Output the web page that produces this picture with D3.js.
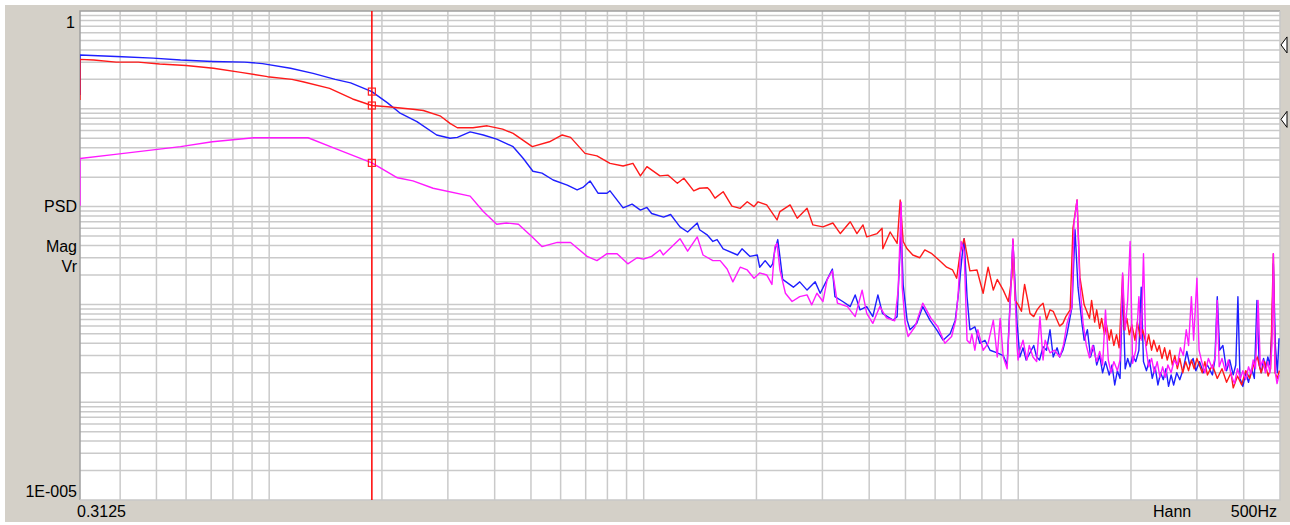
<!DOCTYPE html>
<html>
<head>
<meta charset="utf-8">
<title>PSD</title>
<script src="https://cdn.jsdelivr.net/npm/d3@7"></script>
<style>
  body { margin: 0; background: #ffffff; }
  text { font-family: "Liberation Sans", Arial, sans-serif; font-size: 16px; fill: #000; }
</style>
</head>
<body>
<script>
// frequency axis ends (Hz) and magnitude axis ends
var freqRange = [0.3125, 500];
var magRange = [1e-5, 1];
var cursorFreq = 1.88;

// channel 1 (blue)
var blueFreq = [0.3125, 0.3125, 0.405, 0.49, 0.58, 0.705, 0.86, 0.96, 1.14, 1.31, 1.5, 1.65, 1.88, 2.07, 2.23, 2.48, 2.8, 3.04, 3.18, 3.44, 3.73, 4.05, 4.48, 4.77, 5.06, 5.35, 5.73, 6.25, 6.64, 6.88, 7.19, 7.55, 7.98, 8.13, 8.81, 9.31, 9.8, 10.2, 10.5, 11.3, 11.8, 12.5, 13.1, 13.9, 14.1, 14.8, 15.3, 15.7, 16.3, 17.8, 18.3, 19.2, 20.1, 20.4, 21.1, 21.8, 22.1, 22.4, 22.8, 23.1, 23.5, 25.1, 26.1, 27.3, 28.7, 29.6, 30.9, 31.9, 32.4, 34.0, 35.6, 36.7, 37.8, 39.4, 40.9, 42.2, 43.4, 46.3, 47.5, 47.8, 48.7, 49.3, 50.5, 51.4, 53.6, 55.6, 58.1, 60.6, 63.0, 65.8, 67.9, 69.1, 70.8, 71.7, 73.0, 74.3, 76.6, 79.0, 81.5, 84.1, 87.9, 91.2, 93.4, 95.0, 96.8, 99.3, 101, 103, 105, 107.5, 110, 112, 114, 116.5, 119, 121.6, 124, 127, 129, 131.6, 135, 139.2, 141.8, 144.4, 148, 150, 153, 156, 159, 162, 165, 168, 171, 175, 178, 181, 184, 187, 190, 193, 196, 199, 202, 206, 210, 213, 216, 220, 224, 228, 232, 236, 240, 244, 248, 252, 256, 260, 265, 270, 276, 282, 287, 293, 298, 305, 312, 320, 330, 335, 340, 345, 352, 360, 367, 375, 381, 386, 391, 398, 405, 412, 420, 427, 434, 440, 446, 452, 458, 464, 470, 476, 480, 486, 492, 497];
var blueMag = [0.138, 0.355, 0.34, 0.33, 0.315, 0.305, 0.30, 0.29, 0.26, 0.23, 0.20, 0.184, 0.15, 0.115, 0.091, 0.074, 0.054, 0.050, 0.051, 0.058, 0.054, 0.049, 0.041, 0.031, 0.023, 0.022, 0.0187, 0.0166, 0.0148, 0.0157, 0.0183, 0.0137, 0.0137, 0.0145, 0.0097, 0.0106, 0.0092, 0.0098, 0.0085, 0.0078, 0.0083, 0.0062, 0.0055, 0.0068, 0.0058, 0.0051, 0.0044, 0.0046, 0.0037, 0.0032, 0.0037, 0.0031, 0.0032, 0.0024, 0.0028, 0.0024, 0.0026, 0.0036, 0.0046, 0.0031, 0.0018, 0.0015, 0.0017, 0.0014, 0.0017, 0.0013, 0.0018, 0.0023, 0.0012, 0.00107, 0.00095, 0.00125, 0.00088, 0.00095, 0.00075, 0.00125, 0.00081, 0.00069, 0.00075, 0.00135, 0.006, 0.00158, 0.00069, 0.00055, 0.00064, 0.00095, 0.00069, 0.00055, 0.00043, 0.0005, 0.00069, 0.0012, 0.0031, 0.0047, 0.0012, 0.00055, 0.00059, 0.0004, 0.00043, 0.00034, 0.00032, 0.0003, 0.00024, 0.00095, 0.0044, 0.00064, 0.00029, 0.00036, 0.00027, 0.00032, 0.00038, 0.00029, 0.00027, 0.00037, 0.00034, 0.00055, 0.00029, 0.00036, 0.00029, 0.00034, 0.0005, 0.00095, 0.0058, 0.0015, 0.00064, 0.00043, 0.00055, 0.00029, 0.00038, 0.00024, 0.0003, 0.0002, 0.00026, 0.00019, 0.00024, 0.00015, 0.00021, 0.000175, 0.0015, 0.00022, 0.00028, 0.00023, 0.0003, 0.00026, 0.00034, 0.0015, 0.00026, 0.00021, 0.00027, 0.000175, 0.00023, 0.00015, 0.0002, 0.00017, 0.00022, 0.000145, 0.00019, 0.00015, 0.0002, 0.00017, 0.00022, 0.00033, 0.00024, 0.00028, 0.00021, 0.00026, 0.0002, 0.00024, 0.00019, 0.00027, 0.0012, 0.00034, 0.00038, 0.00021, 0.00027, 0.00019, 0.00024, 0.0012, 0.000175, 0.000145, 0.0002, 0.00016, 0.00022, 0.000175, 0.0011, 0.00024, 0.0002, 0.00028, 0.00022, 0.00029, 0.00024, 0.00055, 0.0026, 0.00038, 0.0002, 0.00045];

// channel 2 (red)
var redFreq = [0.3125, 0.3125, 0.34, 0.39, 0.447, 0.51, 0.60, 0.71, 0.84, 0.99, 1.15, 1.23, 1.45, 1.67, 1.88, 2.07, 2.42, 2.58, 2.87, 3.04, 3.18, 3.5, 3.82, 4.2, 4.48, 5.04, 5.6, 6.06, 6.38, 6.97, 7.5, 8.13, 8.81, 9.36, 9.8, 10.2, 11.05, 11.6, 12.3, 12.8, 13.6, 14.1, 14.8, 15.0, 15.5, 16.3, 17.2, 18.1, 18.9, 19.7, 20.2, 21.3, 22.7, 23.1, 24.6, 25.7, 27.3, 28.3, 30.1, 32.0, 33.5, 35.6, 37.1, 38.5, 39.4, 42.0, 43.3, 43.5, 45.5, 47.5, 48.4, 49.3, 50.5, 52.3, 54.6, 56.3, 58.8, 61.7, 64.4, 66.8, 68.5, 69.9, 71.7, 74.3, 77.6, 80.6, 83.1, 85.8, 87.9, 91.2, 94.1, 96.2, 96.8, 98.1, 100, 102, 103, 104, 106, 107.5, 110, 112.3, 114, 116.5, 119, 121.6, 124, 127, 129, 131.6, 134, 137.6, 140, 143.6, 146.1, 150, 155, 157, 160, 162, 165, 167, 170, 172, 175, 177, 180, 183, 186, 190, 192, 195, 198, 201, 205, 208, 212, 215, 220, 223, 227, 230, 235, 238, 242, 246, 250, 254, 258, 262, 266, 270, 275, 280, 285, 290, 295, 300, 310, 315, 320, 330, 340, 350, 360, 370, 375, 385, 395, 405, 415, 425, 435, 445, 455, 465, 472, 480, 485, 492, 498];
var redMag = [0.123, 0.32, 0.315, 0.30, 0.30, 0.287, 0.277, 0.26, 0.236, 0.213, 0.20, 0.189, 0.162, 0.126, 0.108, 0.105, 0.099, 0.096, 0.084, 0.071, 0.064, 0.064, 0.067, 0.062, 0.056, 0.041, 0.046, 0.054, 0.051, 0.035, 0.033, 0.0277, 0.026, 0.0277, 0.0206, 0.0256, 0.0206, 0.021, 0.0173, 0.0195, 0.0145, 0.0154, 0.0156, 0.0148, 0.0122, 0.0142, 0.0101, 0.0096, 0.0112, 0.01, 0.0112, 0.0104, 0.0073, 0.0089, 0.0104, 0.0076, 0.0096, 0.0065, 0.0062, 0.0068, 0.0053, 0.007, 0.0053, 0.0065, 0.0049, 0.0053, 0.006, 0.0037, 0.0055, 0.0042, 0.0117, 0.0044, 0.0037, 0.0032, 0.003, 0.0036, 0.0033, 0.0028, 0.0024, 0.00225, 0.00185, 0.0033, 0.0047, 0.0022, 0.00225, 0.0013, 0.0024, 0.0014, 0.0018, 0.0014, 0.00107, 0.0019, 0.0046, 0.0011, 0.00099, 0.00085, 0.0012, 0.0016, 0.0011, 0.00081, 0.00075, 0.00088, 0.00095, 0.00103, 0.0007, 0.00088, 0.00085, 0.00069, 0.0006, 0.00064, 0.00075, 0.00088, 0.006, 0.0117, 0.0019, 0.00099, 0.00072, 0.0011, 0.00066, 0.00088, 0.00057, 0.00072, 0.00049, 0.00062, 0.00043, 0.00055, 0.00038, 0.00049, 0.00036, 0.002, 0.00055, 0.00072, 0.00049, 0.00062, 0.00043, 0.00066, 0.00045, 0.00055, 0.00038, 0.00049, 0.00034, 0.00043, 0.00033, 0.00038, 0.00028, 0.00036, 0.00027, 0.00034, 0.00024, 0.0003, 0.00022, 0.00028, 0.0002, 0.00026, 0.00021, 0.00027, 0.00022, 0.00028, 0.0002, 0.00026, 0.00019, 0.00024, 0.000175, 0.00022, 0.00016, 0.0002, 0.00014, 0.000185, 0.00015, 0.00021, 0.000175, 0.00024, 0.00029, 0.0002, 0.00026, 0.000185, 0.00022, 0.0033, 0.0002, 0.000175, 0.00021];

// channel 3 (magenta)
var magFreq = [0.3125, 0.3125, 0.383, 0.58, 0.705, 0.91, 1.27, 1.48, 1.88, 2.2, 2.42, 2.74, 3.44, 3.73, 4.05, 4.3, 4.63, 5.04, 5.35, 5.88, 6.38, 7.06, 7.5, 7.98, 8.49, 9.07, 9.6, 9.98, 10.5, 11.05, 11.27, 11.9, 12.5, 13.1, 13.9, 14.4, 15.3, 16.0, 16.7, 17.3, 18.1, 18.9, 19.7, 20.4, 21.3, 22.0, 22.4, 22.7, 23.1, 23.9, 24.9, 26.1, 27.3, 28.1, 29.0, 30.1, 30.9, 31.9, 32.9, 35.0, 36.7, 38.3, 39.4, 40.9, 42.7, 44.5, 46.8, 47.8, 48.7, 49.0, 49.9, 50.8, 53, 55.6, 58.5, 61, 63.7, 66.4, 68.1, 69.1, 70.4, 71.7, 73, 74.3, 75.2, 76.6, 78, 80.6, 83.1, 85.8, 87.9, 89.5, 91.2, 93.4, 95, 96.8, 99.3, 99.9, 101, 103, 105.5, 107, 109.5, 112, 114.3, 116.5, 118, 121.6, 125, 129.1, 132, 135, 139.2, 140.9, 143.6, 146.1, 149, 152, 155, 158, 162, 165, 168, 171, 174, 177, 180, 184, 187, 190, 193, 196, 199, 202, 206, 210, 213, 216, 219, 223, 227, 231, 235, 239, 243, 247, 251, 256, 261, 266, 271, 276, 281, 285, 290, 294, 300, 304, 309, 315, 322, 330, 336, 340, 344, 350, 357, 364, 370, 378, 385, 392, 398, 405, 412, 418, 424, 430, 437, 443, 450, 457, 464, 470, 476, 480, 485, 491, 497];
var magMag = [0.0102, 0.031, 0.034, 0.041, 0.046, 0.0506, 0.0506, 0.040, 0.028, 0.0197, 0.0183, 0.0154, 0.0128, 0.0089, 0.0066, 0.0068, 0.0066, 0.0049, 0.0039, 0.0043, 0.0043, 0.0031, 0.0028, 0.0033, 0.0033, 0.0026, 0.003, 0.0029, 0.0031, 0.0036, 0.0032, 0.0039, 0.0047, 0.0035, 0.0049, 0.0032, 0.0028, 0.0028, 0.0023, 0.0017, 0.0024, 0.00225, 0.00185, 0.0021, 0.002, 0.0016, 0.0039, 0.0042, 0.00225, 0.0013, 0.00107, 0.0012, 0.00125, 0.00099, 0.0013, 0.00107, 0.0018, 0.0022, 0.00103, 0.00095, 0.00075, 0.0014, 0.00081, 0.00064, 0.00095, 0.00073, 0.00068, 0.0014, 0.0111, 0.0015, 0.00064, 0.00047, 0.00059, 0.00103, 0.00072, 0.00059, 0.0004, 0.00047, 0.00069, 0.00125, 0.0044, 0.0035, 0.00043, 0.0004, 0.0005, 0.00034, 0.00055, 0.00034, 0.0004, 0.00069, 0.00029, 0.00072, 0.00029, 0.00022, 0.00088, 0.0047, 0.00037, 0.00027, 0.00034, 0.00043, 0.00027, 0.00038, 0.00029, 0.00026, 0.00075, 0.00027, 0.00043, 0.00032, 0.00034, 0.00029, 0.00038, 0.00064, 0.00095, 0.0068, 0.0117, 0.0016, 0.00064, 0.00038, 0.000285, 0.00038, 0.00026, 0.00033, 0.00024, 0.00088, 0.00027, 0.0002, 0.00026, 0.00021, 0.00027, 0.0021, 0.00055, 0.0011, 0.0044, 0.00025, 0.00034, 0.0012, 0.00043, 0.0033, 0.00038, 0.00023, 0.00028, 0.0002, 0.00026, 0.00018, 0.00023, 0.00018, 0.00024, 0.0002, 0.00027, 0.00024, 0.00036, 0.0003, 0.00055, 0.00038, 0.0012, 0.00043, 0.00185, 0.00034, 0.00026, 0.0002, 0.00028, 0.00022, 0.0003, 0.0011, 0.00023, 0.00028, 0.00021, 0.00027, 0.00019, 0.000155, 0.00022, 0.000175, 0.00021, 0.00017, 0.00023, 0.000195, 0.00027, 0.00022, 0.0011, 0.00023, 0.00027, 0.0002, 0.00026, 0.0002, 0.00038, 0.0033, 0.00021, 0.000155, 0.00019];

var w = 1290;
var h = 525;
var plot = { left: 80, top: 11, right: 1280, bottom: 500 };

var xScale = d3.scaleLog().domain(freqRange).range([plot.left, plot.right]);
var yScale = d3.scaleLog().domain(magRange).range([plot.bottom, plot.top]);

var svg = d3.select("body").append("svg")
    .attr("width", w)
    .attr("height", h);

// window panel
svg.append("rect")
    .attr("x", 5).attr("y", 5)
    .attr("width", w - 5).attr("height", h - 8)
    .attr("fill", "#d4d0c8");

svg.append("rect")
    .attr("x", plot.left).attr("y", plot.top)
    .attr("width", plot.right - plot.left)
    .attr("height", plot.bottom - plot.top)
    .attr("fill", "#ffffff");

// grid lines, 1..9 per decade
var xGrid = [];
for (var e = -1; e <= 2; e++) {
    for (var k = 1; k <= 9; k++) {
        var f = k * Math.pow(10, e);
        if (f > freqRange[0] && f < freqRange[1]) xGrid.push(f);
    }
}
var yGrid = [];
for (var e2 = -5; e2 <= -1; e2++) {
    for (var k2 = 1; k2 <= 9; k2++) {
        var v = k2 * Math.pow(10, e2);
        if (v > magRange[0] && v < magRange[1]) yGrid.push(v);
    }
}

var grid = svg.append("g")
    .attr("stroke", "#cacaca")
    .attr("stroke-width", 1.5);

grid.selectAll(".gx")
    .data(xGrid)
    .enter()
    .append("line")
    .attr("x1", function(d) { return xScale(d); })
    .attr("x2", function(d) { return xScale(d); })
    .attr("y1", plot.top)
    .attr("y2", plot.bottom);

grid.selectAll(".gy")
    .data(yGrid)
    .enter()
    .append("line")
    .attr("x1", plot.left)
    .attr("x2", plot.right)
    .attr("y1", function(d) { return yScale(d); })
    .attr("y2", function(d) { return yScale(d); });

// frame: dark top/left, light bottom/right
svg.append("path")
    .attr("d", "M" + plot.left + "," + plot.bottom + "V" + plot.top + "H" + plot.right)
    .attr("fill", "none")
    .attr("stroke", "#a0a0a0")
    .attr("stroke-width", 1.5);
svg.append("path")
    .attr("d", "M" + plot.right + "," + plot.top + "V" + plot.bottom + "H" + plot.left)
    .attr("fill", "none")
    .attr("stroke", "#c8c8c8")
    .attr("stroke-width", 1.5);

svg.append("clipPath")
    .attr("id", "clip")
    .append("rect")
    .attr("x", plot.left).attr("y", plot.top)
    .attr("width", plot.right - plot.left)
    .attr("height", plot.bottom - plot.top);

var series = [
    { f: blueFreq, m: blueMag, color: "#1f1fff" },
    { f: redFreq, m: redMag, color: "#ff1a1a" },
    { f: magFreq, m: magMag, color: "#ff1aff" }
];

var line = d3.line()
    .x(function(d) { return xScale(d[0]); })
    .y(function(d) { return yScale(d[1]); });

var curves = svg.append("g").attr("clip-path", "url(#clip)");

curves.selectAll("path")
    .data(series)
    .enter()
    .append("path")
    .attr("d", function(s) {
        return line(s.f.map(function(f, i) { return [f, s.m[i]]; }));
    })
    .attr("fill", "none")
    .attr("stroke", function(s) { return s.color; })
    .attr("stroke-width", 1.4)
    .attr("stroke-linejoin", "round");

// cursor
var cx = xScale(cursorFreq);
svg.append("line")
    .attr("x1", cx).attr("x2", cx)
    .attr("y1", plot.top).attr("y2", plot.bottom)
    .attr("stroke", "#ff0000")
    .attr("stroke-width", 1.5);

svg.selectAll(".cmark")
    .data(series)
    .enter()
    .append("rect")
    .attr("x", cx - 3.5)
    .attr("y", function(s) { return yScale(s.m[s.f.indexOf(cursorFreq)]) - 3.5; })
    .attr("width", 7)
    .attr("height", 7)
    .attr("fill", "none")
    .attr("stroke", "#ff2020")
    .attr("stroke-width", 1.2);

// reference level markers on the right edge
var refLevels = [0.45, 0.078];
svg.selectAll(".ref")
    .data(refLevels)
    .enter()
    .append("path")
    .attr("d", function(d) {
        var y = yScale(d);
        return "M" + (plot.right + 7) + "," + (y - 8) + "L" + (plot.right + 1) + "," + y + "L" + (plot.right + 7) + "," + (y + 8) + "Z";
    })
    .attr("fill", "#ffffff")
    .attr("stroke", "#000")
    .attr("stroke-width", 1);

// labels
svg.append("text")
    .attr("x", plot.left - 5).attr("y", yScale(magRange[1]) + 17)
    .attr("text-anchor", "end").text("1");
svg.append("text")
    .attr("x", plot.left - 3).attr("y", yScale(magRange[0]) - 3)
    .attr("text-anchor", "end").text("1E-005");

var yNames = ["PSD", "Mag", "Vr"];
var yNameBase = [212, 252, 272];
svg.selectAll(".yname")
    .data(yNames)
    .enter()
    .append("text")
    .attr("x", plot.left - 3)
    .attr("y", function(d, i) { return yNameBase[i]; })
    .attr("text-anchor", "end")
    .text(function(d) { return d; });

svg.append("text")
    .attr("x", xScale(freqRange[0]) - 3).attr("y", 517)
    .text(String(freqRange[0]));
svg.append("text")
    .attr("x", 1153).attr("y", 517)
    .text("Hann");
svg.append("text")
    .attr("x", xScale(freqRange[1]) - 3).attr("y", 517)
    .attr("text-anchor", "end")
    .text(freqRange[1] + "Hz");
</script>
</body>
</html>
